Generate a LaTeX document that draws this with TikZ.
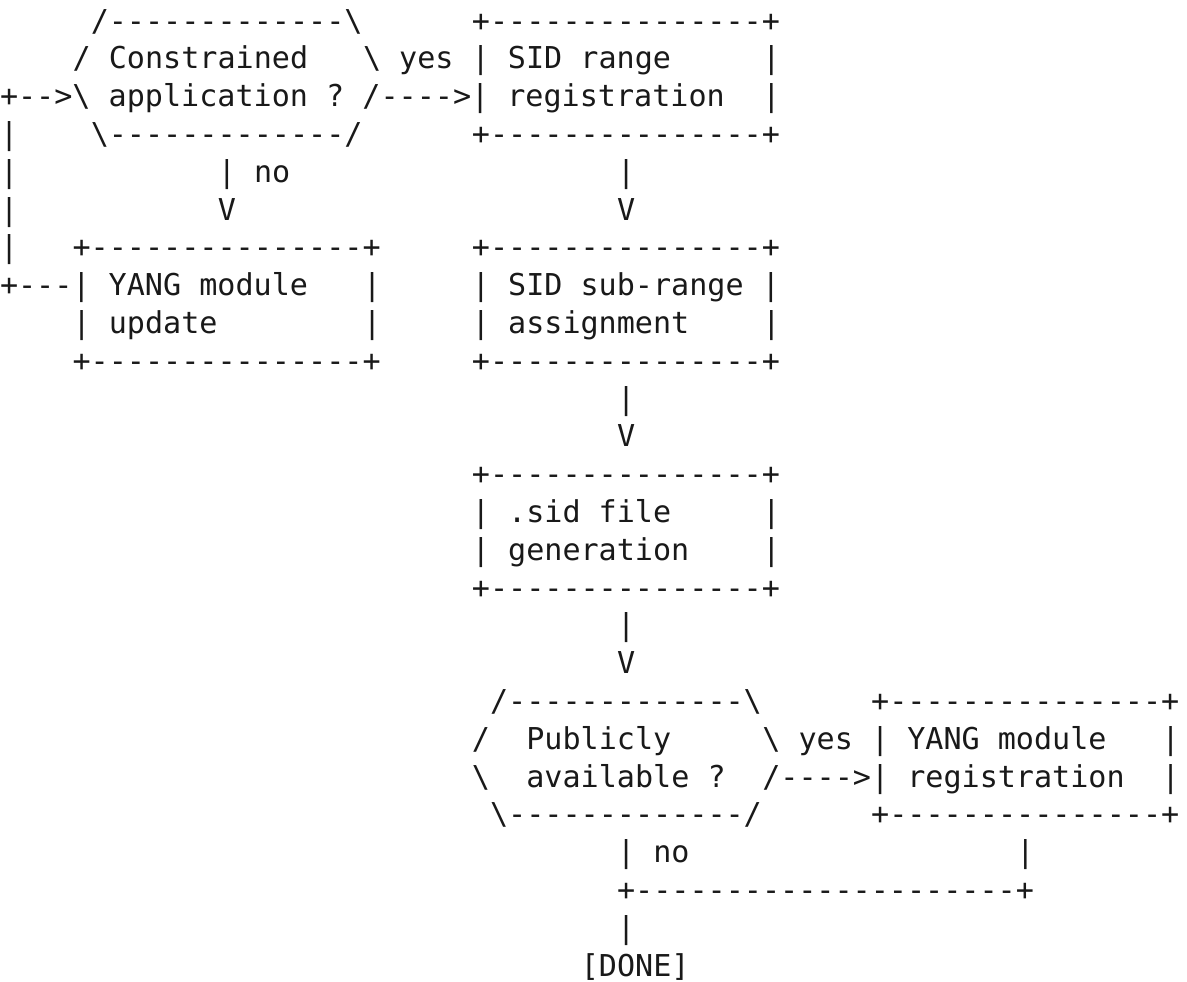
\documentclass[tikz,border=0pt]{standalone}
\usepackage{fontspec}
\setmonofont{DejaVu Sans Mono}
\newcommand\bs{\textbackslash}
% one text segment on the character grid: name, row, column, text
\newcommand\seg[4]{\node[seg] (#1) at ({#3*18.15},{31+#2*37.8}) {#4};}
\begin{document}
\begin{tikzpicture}[x=0.5pt,y=-0.5pt,
  seg/.style={anchor=base west,inner sep=0pt,outer sep=0pt,text=black!90,
    font=\ttfamily\fontsize{15.05pt}{18pt}\selectfont\frenchspacing}]
\fill[white] (0,0) rectangle (1187,981);
\useasboundingbox (0,0) rectangle (1187,981);
% decision: constrained application
\seg{a0}{0}{5}{/-------------\bs}
\seg{a1}{1}{4}{/ Constrained}
\seg{a2}{1}{20}{\bs{} yes | SID range}
\seg{a3}{1}{42}{|}
\seg{a4}{2}{0}{+-->\bs{} application ? /---->| registration}
\seg{a5}{2}{42}{|}
\seg{a6}{3}{0}{|}
\seg{a7}{3}{5}{\bs-------------/}
% SID range registration box
\seg{b0}{0}{26}{+---------------+}
\seg{b1}{3}{26}{+---------------+}
\seg{b2}{4}{0}{|}
\seg{b3}{4}{12}{| no}
\seg{b4}{4}{34}{|}
\seg{b5}{5}{0}{|}
\seg{b6}{5}{12}{V}
\seg{b7}{5}{34}{V}
% YANG module update and SID sub-range assignment
\seg{c0}{6}{0}{|}
\seg{c1}{6}{4}{+---------------+}
\seg{c2}{6}{26}{+---------------+}
\seg{c3}{7}{0}{+---| YANG module}
\seg{c4}{7}{20}{|}
\seg{c5}{7}{26}{| SID sub-range |}
\seg{c6}{8}{4}{| update}
\seg{c7}{8}{20}{|}
\seg{c8}{8}{26}{| assignment}
\seg{c9}{8}{42}{|}
\seg{c10}{9}{4}{+---------------+}
\seg{c11}{9}{26}{+---------------+}
\seg{c12}{10}{34}{|}
\seg{c13}{11}{34}{V}
% .sid file generation
\seg{d0}{12}{26}{+---------------+}
\seg{d1}{13}{26}{| .sid file}
\seg{d2}{13}{42}{|}
\seg{d3}{14}{26}{| generation}
\seg{d4}{14}{42}{|}
\seg{d5}{15}{26}{+---------------+}
\seg{d6}{16}{34}{|}
\seg{d7}{17}{34}{V}
% decision: publicly available
\seg{e0}{18}{27}{/-------------\bs}
\seg{e1}{18}{48}{+---------------+}
\seg{e2}{19}{26}{/}
\seg{e3}{19}{29}{Publicly}
\seg{e4}{19}{42}{\bs{} yes | YANG module}
\seg{e5}{19}{64}{|}
\seg{e6}{20}{26}{\bs}
\seg{e7}{20}{29}{available ?}
\seg{e8}{20}{42}{/---->| registration}
\seg{e9}{20}{64}{|}
\seg{e10}{21}{27}{\bs-------------/}
\seg{e11}{21}{48}{+---------------+}
% merge and end
\seg{f0}{22}{34}{| no}
\seg{f1}{22}{56}{|}
\seg{f2}{23}{34}{+---------------------+}
\seg{f3}{24}{34}{|}
\seg{f4}{25}{32}{[DONE]}
\end{tikzpicture}
\end{document}
